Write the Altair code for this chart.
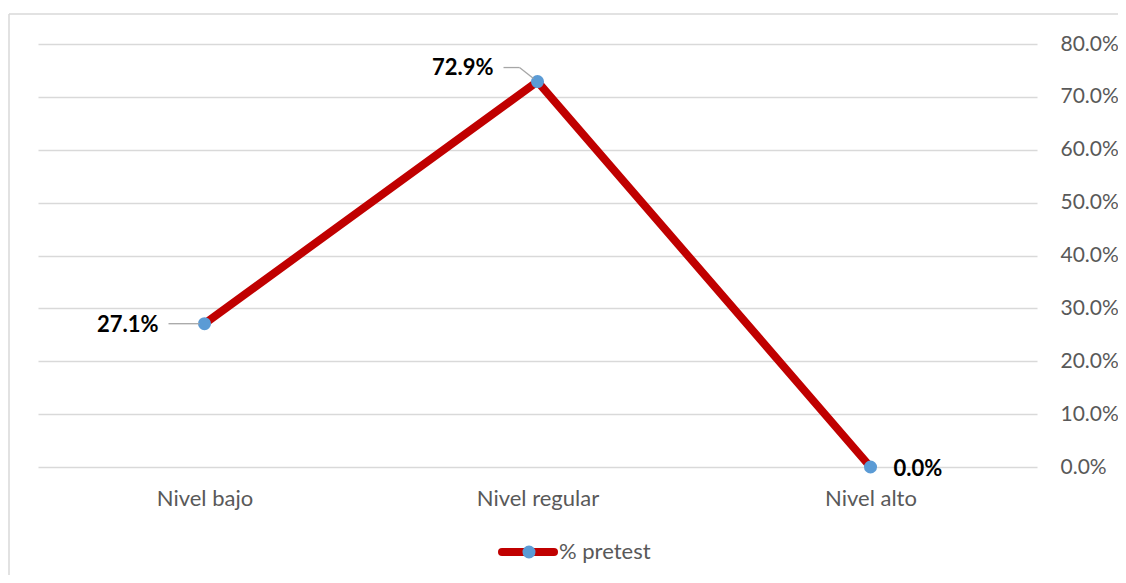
import altair as alt
import pandas as pd

categories = ["Nivel bajo", "Nivel regular", "Nivel alto"]
values = [0.271, 0.729, 0.0]
series_name = "% pretest"
y_ticks = [0.0, 0.1, 0.2, 0.3, 0.4, 0.5, 0.6, 0.7, 0.8]

FONT = "Lato"
RED = "#C00000"
BLUE = "#5B9BD5"
GRAY_TXT = "#595959"
GRID = "#D9D9D9"
LEADER = "#A6A6A6"

df = pd.DataFrame({"cat": categories, "val": values, "series": [series_name] * len(categories)})
leg_df = pd.DataFrame({"series": [series_name]})

x = alt.X(
    "cat:N",
    sort=categories,
    scale=alt.Scale(type="point", padding=0.5),
    axis=alt.Axis(
        title=None, labelAngle=0, domain=False, ticks=False, grid=False,
        labelPadding=21, labelFontSize=22, labelColor=GRAY_TXT, labelFont=FONT,
    ),
)
y = alt.Y(
    "val:Q",
    scale=alt.Scale(domain=[0, 0.8], nice=False),
    axis=alt.Axis(
        orient="right", values=y_ticks, format=".1%", title=None, domain=False,
        ticks=False, grid=True, gridColor=GRID, gridWidth=1.3, labelPadding=23,
        labelAlign="left", labelFontSize=21, labelColor=GRAY_TXT, labelFont=FONT,
    ),
)

base = alt.Chart(df).encode(x=x, y=y)

line = base.mark_line(color=RED, strokeWidth=8, strokeCap="round", strokeJoin="round")
pts = base.mark_circle(size=170, color=BLUE, opacity=1)

txt = alt.Text("val:Q", format=".1%")
lbl_style = dict(fontWeight="bold", fontSize=22, color="#000000", font=FONT)

low = base.transform_filter(alt.datum.cat == categories[0])
mid = base.transform_filter(alt.datum.cat == categories[1])
high = base.transform_filter(alt.datum.cat == categories[2])

low_txt = low.mark_text(align="right", dx=-46, dy=1, **lbl_style).encode(text=txt)
low_lead = low.mark_rule(color=LEADER, strokeWidth=1.3, xOffset=-36, x2Offset=-5).encode(
    x2=alt.X2("cat"), y2=alt.Y2("val"))

mid_txt = mid.mark_text(align="right", dx=-44, dy=-14, **lbl_style).encode(text=txt)
mid_lead1 = mid.mark_rule(color=LEADER, strokeWidth=1.3, xOffset=-34, x2Offset=-18,
                          yOffset=-14, y2Offset=-14).encode(x2=alt.X2("cat"), y2=alt.Y2("val"))
mid_lead2 = mid.mark_rule(color=LEADER, strokeWidth=1.3, xOffset=-18, x2Offset=-4,
                          yOffset=-14, y2Offset=-3).encode(x2=alt.X2("cat"), y2=alt.Y2("val"))

high_txt = high.mark_text(align="left", dx=23, dy=2, **lbl_style).encode(text=txt)

# legend (drawn manually)
leg = alt.Chart(leg_df)
leg_line = leg.mark_rule(color=RED, strokeWidth=8, strokeCap="round").encode(
    x=alt.value(464), x2=alt.value(516), y=alt.value(508))
leg_pt = leg.mark_circle(size=170, color=BLUE, opacity=1).encode(
    x=alt.value(491), y=alt.value(508))
leg_txt = leg.mark_text(align="left", baseline="middle", fontSize=22, color=GRAY_TXT, font=FONT).encode(
    x=alt.value(521), y=alt.value(508), text="series:N")

# chart frame: only the top and left edges are visible in the reference
frame_top = leg.mark_rule(color=GRID, strokeWidth=1.5).encode(
    x=alt.value(-29), x2=alt.value(1400), y=alt.value(-30))
frame_left = leg.mark_rule(color=GRID, strokeWidth=1.5).encode(
    x=alt.value(-29), y=alt.value(-30), y2=alt.value(900))

chart = alt.layer(
    frame_top, frame_left, line, pts, low_lead, mid_lead1, mid_lead2, low_txt, mid_txt, high_txt,
    leg_line, leg_pt, leg_txt,
).properties(
    width=999, height=423,
    autosize=alt.AutoSizeParams(type="none"),
    padding={"left": 30, "top": 36, "right": 81, "bottom": 108},
    background="white",
).configure_view(strokeWidth=0)

chart.save("out.html", embed_options={"renderer": "svg", "actions": False})
